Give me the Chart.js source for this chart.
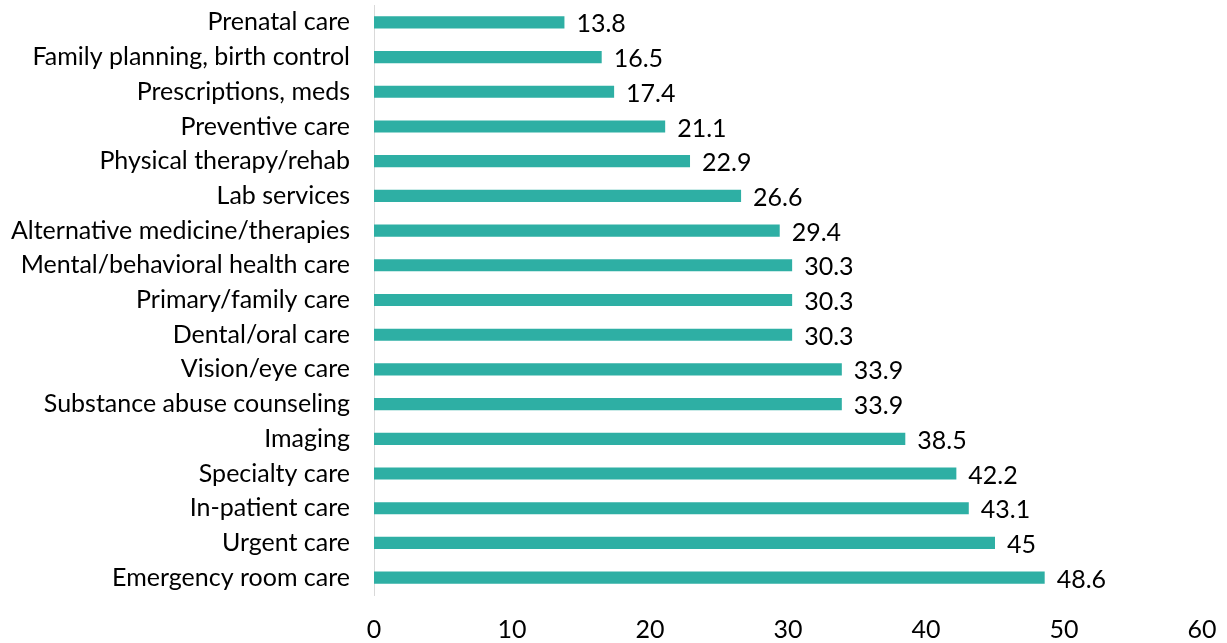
<!DOCTYPE html>
<html>
<head>
<meta charset="utf-8">
<script src="https://cdn.jsdelivr.net/npm/chart.js@4.4.1/dist/chart.umd.min.js"></script>
<style>
  html, body { margin: 0; padding: 0; background: #fff; }
  #wrap { width: 1227px; height: 643px; }
</style>
</head>
<body>
<div id="wrap"><canvas id="services"></canvas></div>
<script>
    "use strict";

    // Chart data
    var categories = [
        "Prenatal care",
        "Family planning, birth control",
        "Prescriptions, meds",
        "Preventive care",
        "Physical therapy/rehab",
        "Lab services",
        "Alternative medicine/therapies",
        "Mental/behavioral health care",
        "Primary/family care",
        "Dental/oral care",
        "Vision/eye care",
        "Substance abuse counseling",
        "Imaging",
        "Specialty care",
        "In-patient care",
        "Urgent care",
        "Emergency room care"
    ];
    var values = [13.8, 16.5, 17.4, 21.1, 22.9, 26.6, 29.4, 30.3, 30.3, 30.3, 33.9, 33.9, 38.5, 42.2, 43.1, 45, 48.6];
    var xTicks = [0, 10, 20, 30, 40, 50, 60];

    var fontFamily = "Lato, 'Open Sans', sans-serif";
    var fontSize = 25;

    // Value labels next to each bar
    var valueLabels = {
        id: "valueLabels",
        afterDatasetsDraw: function (chart) {
            var ctx = chart.ctx;
            var meta = chart.getDatasetMeta(0);
            ctx.save();
            ctx.font = fontSize + "px " + fontFamily;
            ctx.fillStyle = "#000";
            ctx.textAlign = "left";
            ctx.textBaseline = "middle";
            meta.data.forEach(function (bar, i) {
                ctx.fillText(String(values[i]), bar.x + 12, bar.y + 2);
            });
            ctx.restore();
        }
    };

    var ctx = document.getElementById("services").getContext("2d");
    var chart = new Chart(ctx, {
        type: "bar",
        data: {
            labels: categories,
            datasets: [{
                data: values,
                backgroundColor: "#2EAFA4",
                barPercentage: 0.7,
                categoryPercentage: 0.5
            }]
        },
        options: {
            indexAxis: "y",
            responsive: true,
            maintainAspectRatio: false,
            animation: false,
            layout: { padding: { top: 5, right: 25, left: 0, bottom: 0 } },
            plugins: {
                legend: { display: false },
                tooltip: { enabled: false }
            },
            scales: {
                x: {
                    min: 0,
                    max: 60,
                    afterBuildTicks: function (scale) {
                        scale.ticks = xTicks.map(function (v) { return { value: v }; });
                    },
                    afterFit: function (scale) {
                        scale.height = 48;
                        scale.paddingLeft = 0;
                        scale.paddingRight = 0;
                    },
                    grid: { display: false, drawTicks: false },
                    border: { display: false },
                    ticks: {
                        color: "#000",
                        padding: 20,
                        maxRotation: 0,
                        font: { family: fontFamily, size: fontSize }
                    }
                },
                y: {
                    afterFit: function (scale) {
                        scale.width = 374;
                        scale.paddingTop = 0;
                        scale.paddingBottom = 0;
                    },
                    grid: { display: false, drawTicks: false },
                    border: { display: true, color: "#d9d9d9", width: 1 },
                    ticks: {
                        color: "#000",
                        padding: 24,
                        autoSkip: false,
                        font: { family: fontFamily, size: fontSize }
                    }
                }
            }
        },
        plugins: [valueLabels]
    });
</script>
</body>
</html>
